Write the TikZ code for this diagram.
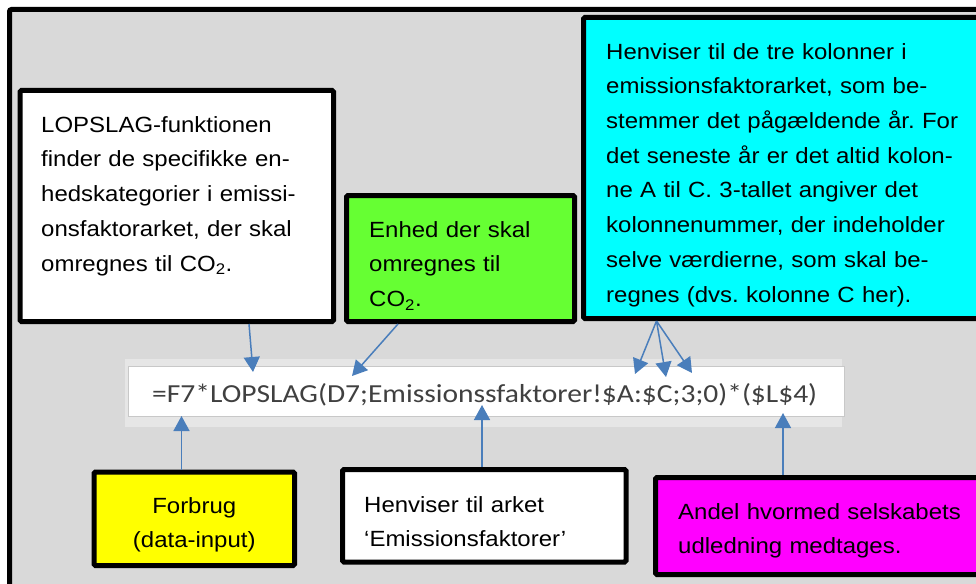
\documentclass[tikz,border=0pt]{standalone}
\usepackage{fontspec}
\setmainfont{Liberation Sans}
\newfontfamily\boxfont{Liberation Sans}[FakeStretch=1.09]
\newfontfamily\formfont{Carlito}[FakeStretch=1.135]
\usetikzlibrary{arrows.meta}
\frenchspacing
\definecolor{bg}{HTML}{D9D9D9}
\definecolor{barband}{HTML}{E6E6E6}
\definecolor{barline}{HTML}{C8C8C8}
\definecolor{formtxt}{HTML}{404040}
\definecolor{greenbox}{HTML}{66FF33}
\definecolor{cyanbox}{HTML}{00FFFF}
\definecolor{yellowbox}{HTML}{FFFF00}
\definecolor{magentabox}{HTML}{FF00FF}
\definecolor{arrblue}{HTML}{4A7EBB}
\tikzset{
  box/.style={draw=black, line width=5pt, rounded corners=1.5pt, inner sep=0pt},
  txt/.style={anchor=north west, inner sep=0pt, text width=#1, align=left,
              font=\boxfont\fontsize{22}{34.7}\selectfont\frenchspacing},
  ctxt/.style={anchor=north, inner sep=0pt, text width=#1, align=center,
              font=\boxfont\fontsize{22}{34.7}\selectfont\frenchspacing},
  arr/.style={draw=arrblue, line width=1.5pt, -{Triangle[length=15pt,width=16pt]}},
}
\begin{document}
\begin{tikzpicture}[x=1pt,y=-1pt]
\useasboundingbox (0,0) rectangle (976,583);
\clip (0,0) rectangle (976,583);
\fill[white] (0,0) rectangle (976,583);
\draw[line width=5pt, fill=bg, rounded corners=2pt] (9.5,9.5) rectangle (1000,610);

% formula bar
\node[fill=barband, inner sep=0pt, minimum width=717pt, minimum height=68pt] (bar) at (483.5,393) {};
\node[fill=white, draw=barline, line width=1pt, inner sep=0pt, minimum width=716pt, minimum height=50pt] (formula) at (486,391) {};
\node[anchor=base west, inner sep=0pt, text=formtxt, font=\formfont\fontsize{26}{30}\selectfont] (ftext) at (152,402)
  {=F7*LOPSLAG(D7;Emissionssfaktorer!\$A:\$C;3;0)*(\$L\$4)};

% boxes
\node[box, fill=white, minimum width=313.5pt, minimum height=231pt] (white1) at (176.75,206) {};
\node[box, fill=greenbox, minimum width=228pt, minimum height=126pt] (green) at (460.5,258.5) {};
\node[box, fill=cyanbox, minimum width=416.5pt, minimum height=301pt] (cyan) at (791.75,168) {};
\node[box, fill=yellowbox, minimum width=200.5pt, minimum height=93.5pt] (yellow) at (194.25,518.75) {};
\node[box, fill=white, minimum width=283.5pt, minimum height=92.5pt] (white2) at (484.25,515.75) {};
\node[box, fill=magentabox, minimum width=344.5pt, minimum height=97pt] (magenta) at (827.75,526) {};

% texts
\node[txt=300pt] (t-white1) at (41,{132-24.29})
  {\strut LOPSLAG-funktionen\\finder de specifikke en-\\hedskategorier i emissi-\\onsfaktorarket, der skal\\omregnes til CO\textsubscript{2}.};
\node[txt=200pt] (t-green) at (369,{237-24.29})
  {\strut Enhed der skal\\omregnes til\\CO\textsubscript{2}.};
\node[txt=380pt] (t-cyan) at (606,{59-24.29})
  {\strut Henviser til de tre kolonner i\\emissionsfaktorarket, som be-\\stemmer det pågældende år. For\\det seneste år er det altid kolon-\\ne A til C. 3-tallet angiver det\\kolonnenummer, der indeholder\\selve værdierne, som skal be-\\regnes (dvs. kolonne C her).};
\node[ctxt=190pt] (t-yellow) at (194.25,{513-24.29})
  {\strut Forbrug\\(data-input)};
\node[txt=260pt] (t-white2) at (364,{512-24.29})
  {\strut Henviser til arket\\‘Emissionsfaktorer’};
\node[txt=300pt] (t-magenta) at (678,{519-24.29})
  {\strut Andel hvormed selskabets\\udledning medtages.};

% arrow tips on the formula
\coordinate (p1) at (253,372);
\coordinate (p2) at (352,376);
\coordinate (p3) at (635,374);
\coordinate (p4) at (666,377);
\coordinate (p5) at (692,373);
\coordinate (p6) at (181.5,416);
\coordinate (p7) at (482,405);
\coordinate (p8) at (783,413);

\draw[arr] ([xshift=72.25pt]white1.south) -- (p1);
\draw[arr] ([xshift=-62.5pt]green.south) -- (p2);
\draw[arr] ([xshift=-135.25pt]cyan.south) -- (p3);
\draw[arr] ([xshift=-135.25pt]cyan.south) -- (p4);
\draw[arr] ([xshift=-135.25pt]cyan.south) -- (p5);
\draw[arr] ([xshift=-12.75pt]yellow.north) -- (p6);
\draw[arr] ([xshift=-2.25pt]white2.north) -- (p7);
\draw[arr] ([xshift=-44.75pt]magenta.north) -- (p8);
\end{tikzpicture}
\end{document}
